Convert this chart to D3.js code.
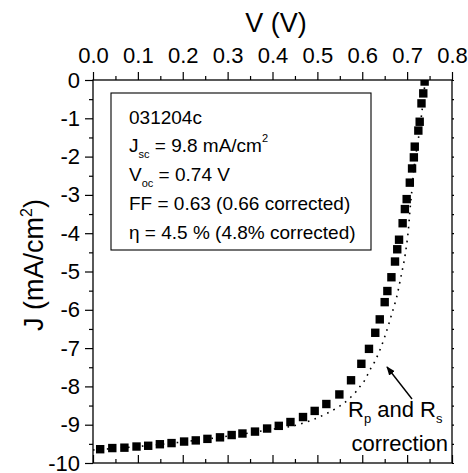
<!DOCTYPE html>
<html>
<head>
<meta charset="utf-8">
<script src="https://cdn.jsdelivr.net/npm/d3@7/dist/d3.min.js"></script>
<style>
  html, body { margin: 0; padding: 0; background: #fff; }
  svg { display: block; font-family: "Liberation Sans", Arial, sans-serif; }
</style>
</head>
<body>
<svg id="chart" width="468" height="473"></svg>
<script>
// Measured J-V curve of cell 031204c (squares)
const voltage = [0.016, 0.043, 0.070, 0.097, 0.123, 0.149, 0.175, 0.203, 0.229, 0.255,
  0.283, 0.309, 0.333, 0.361, 0.388, 0.414, 0.440, 0.468, 0.494, 0.520,
  0.549, 0.575, 0.598, 0.615, 0.629, 0.639, 0.650, 0.656, 0.665, 0.673,
  0.678, 0.682, 0.690, 0.695, 0.699, 0.706, 0.711, 0.715, 0.717, 0.725,
  0.728, 0.732, 0.736, 0.739];
const currentDensity = [-9.64, -9.61, -9.60, -9.57, -9.55, -9.51, -9.48, -9.44, -9.41, -9.37,
  -9.33, -9.27, -9.23, -9.18, -9.10, -9.03, -8.93, -8.80, -8.64, -8.46,
  -8.21, -7.84, -7.41, -7.02, -6.60, -6.25, -5.80, -5.51, -5.15, -4.74,
  -4.42, -4.17, -3.74, -3.37, -3.11, -2.68, -2.31, -2.02, -1.74, -1.32,
  -1.09, -0.61, -0.35, -0.04];

// Curve after parallel / series resistance correction (dotted)
const correctedVoltage = [0.000, 0.100, 0.200, 0.300, 0.400, 0.450, 0.500, 0.535, 0.561, 0.583,
  0.595, 0.606, 0.617, 0.628, 0.643, 0.655, 0.665, 0.676, 0.686, 0.695,
  0.702, 0.707, 0.710, 0.716, 0.720, 0.726, 0.733, 0.739, 0.741];
const correctedCurrent = [-9.66, -9.57, -9.45, -9.30, -9.12, -9.02, -8.82, -8.62, -8.42, -8.18,
  -8.00, -7.83, -7.57, -7.35, -6.94, -6.53, -6.14, -5.70, -5.15, -4.61,
  -4.00, -3.31, -2.96, -2.22, -1.91, -1.46, -0.83, -0.17, 0.00];

const xMajorTicks = [0, 0.1, 0.2, 0.3, 0.4, 0.5, 0.6, 0.7, 0.8];
const xMinorTicks = [0.05, 0.15, 0.25, 0.35, 0.45, 0.55, 0.65, 0.75];
const yMajorTicks = [0, -1, -2, -3, -4, -5, -6, -7, -8, -9, -10];
const yMinorTicks = [-0.5, -1.5, -2.5, -3.5, -4.5, -5.5, -6.5, -7.5, -8.5, -9.5];

const svg = d3.select("#chart");
const plotLeft = 93, plotRight = 452, plotTop = 80, plotBottom = 463;

const x = d3.scaleLinear().domain([0, 0.8]).range([plotLeft, plotRight]);
const y = d3.scaleLinear().domain([0, -10]).range([plotTop, plotBottom]);

const fmtX = d3.format(".1f");
// plain hyphen for negative labels
const fmtY = d => String(d);

function styleAxis(g, fontSize) {
  g.select(".domain").remove();
  g.selectAll(".tick line").attr("stroke", "#000").attr("stroke-width", 1.2);
  g.selectAll(".tick text")
    .attr("fill", "#000")
    .style("font-size", fontSize + "px")
    .style("font-family", "'Liberation Sans', Arial, sans-serif");
}

// Top axis: labelled, ticks outward
svg.append("g").attr("transform", `translate(0,${plotTop})`)
  .call(d3.axisTop(x).tickValues(xMajorTicks).tickSize(8).tickPadding(9).tickFormat(fmtX))
  .call(g => styleAxis(g, 22));
svg.append("g").attr("transform", `translate(0,${plotTop})`)
  .call(d3.axisTop(x).tickValues(xMinorTicks).tickSize(4).tickFormat(""))
  .call(g => styleAxis(g, 22));

// Bottom axis: ticks inward, no labels
svg.append("g").attr("transform", `translate(0,${plotBottom})`)
  .call(d3.axisBottom(x).tickValues(xMajorTicks).tickSize(-8).tickFormat(""))
  .call(g => styleAxis(g, 22));
svg.append("g").attr("transform", `translate(0,${plotBottom})`)
  .call(d3.axisBottom(x).tickValues(xMinorTicks).tickSize(-4).tickFormat(""))
  .call(g => styleAxis(g, 22));

// Left axis: labelled, ticks outward
svg.append("g").attr("transform", `translate(${plotLeft},0)`)
  .call(d3.axisLeft(y).tickValues(yMajorTicks).tickSize(8).tickPadding(5).tickFormat(fmtY))
  .call(g => styleAxis(g, 22));
svg.append("g").attr("transform", `translate(${plotLeft},0)`)
  .call(d3.axisLeft(y).tickValues(yMinorTicks).tickSize(4).tickFormat(""))
  .call(g => styleAxis(g, 22));

// Right axis: short outward ticks
svg.append("g").attr("transform", `translate(${plotRight},0)`)
  .call(d3.axisRight(y).tickValues(yMajorTicks.concat(yMinorTicks)).tickSize(2).tickFormat(""))
  .call(g => styleAxis(g, 22));

// Plot frame
svg.append("rect")
  .attr("x", plotLeft).attr("y", plotTop)
  .attr("width", plotRight - plotLeft).attr("height", plotBottom - plotTop)
  .attr("fill", "none").attr("stroke", "#000").attr("stroke-width", 1.3);

// Clip marks to the plot area
svg.append("clipPath").attr("id", "plotClip")
  .append("rect").attr("x", plotLeft).attr("y", plotTop)
  .attr("width", plotRight - plotLeft).attr("height", plotBottom - plotTop);

const plot = svg.append("g").attr("clip-path", "url(#plotClip)");

// Corrected curve
const corrected = correctedVoltage.map((v, i) => [v, correctedCurrent[i]]);
plot.append("path")
  .datum(corrected)
  .attr("d", d3.line().x(d => x(d[0])).y(d => y(d[1])).curve(d3.curveCatmullRom))
  .attr("fill", "none")
  .attr("stroke", "#000")
  .attr("stroke-width", 1.6)
  .attr("stroke-dasharray", "1.6 5.4");

// Measured points
const measured = voltage.map((v, i) => [v, currentDensity[i]]);
const sq = 8.4;
plot.selectAll("rect.pt")
  .data(measured)
  .join("rect")
  .attr("class", "pt")
  .attr("x", d => x(d[0]) - sq / 2)
  .attr("y", d => y(d[1]) - sq / 2)
  .attr("width", sq).attr("height", sq)
  .attr("fill", "#000");

// Axis titles
svg.append("text")
  .attr("x", 276).attr("y", 32)
  .attr("text-anchor", "middle")
  .style("font-size", "27px")
  .text("V (V)");

const yTitle = svg.append("text")
  .attr("transform", "translate(43,265) rotate(-90)")
  .attr("text-anchor", "middle")
  .style("font-size", "27px");
yTitle.append("tspan").text("J (mA/cm");
yTitle.append("tspan").attr("dy", -11).style("font-size", "16px").text("2");
yTitle.append("tspan").attr("dy", 11).text(")");

// Parameter box
svg.append("rect")
  .attr("x", 111).attr("y", 93).attr("width", 260).attr("height", 157)
  .attr("fill", "#fff").attr("stroke", "#000").attr("stroke-width", 1.1);

const bx = 129, fs = 19, sub = 11;
const info = svg.append("g").style("font-size", fs + "px");
info.append("text").attr("x", bx).attr("y", 124).text("031204c");

const jsc = info.append("text").attr("x", bx).attr("y", 152);
jsc.append("tspan").text("J");
jsc.append("tspan").attr("dy", 6).style("font-size", sub + "px").text("sc");
jsc.append("tspan").attr("dy", -6).text(" = 9.8 mA/cm");
jsc.append("tspan").attr("dy", -10).style("font-size", sub + "px").text("2");

const voc = info.append("text").attr("x", bx).attr("y", 181);
voc.append("tspan").text("V");
voc.append("tspan").attr("dy", 6).style("font-size", sub + "px").text("oc");
voc.append("tspan").attr("dy", -6).text(" = 0.74 V");

info.append("text").attr("x", bx).attr("y", 210).text("FF = 0.63 (0.66 corrected)");
info.append("text").attr("x", bx).attr("y", 239).text("\u03b7 = 4.5 % (4.8% corrected)");

// Annotation for the corrected curve
svg.append("defs").append("marker")
  .attr("id", "arrowHead")
  .attr("viewBox", "0 0 10 10")
  .attr("refX", 9).attr("refY", 5)
  .attr("markerWidth", 9).attr("markerHeight", 9)
  .attr("markerUnits", "userSpaceOnUse")
  .attr("orient", "auto")
  .append("path").attr("d", "M0,1 L10,5 L0,9 Z").attr("fill", "#000");

svg.append("line")
  .attr("x1", 412).attr("y1", 399)
  .attr("x2", 387).attr("y2", 367)
  .attr("stroke", "#000").attr("stroke-width", 1.4)
  .attr("marker-end", "url(#arrowHead)");

const note = svg.append("text").attr("x", 348).attr("y", 417).style("font-size", "22px");
note.append("tspan").text("R");
note.append("tspan").attr("dy", 6).style("font-size", "13px").text("p");
note.append("tspan").attr("dy", -6).text(" and R");
note.append("tspan").attr("dy", 6).style("font-size", "13px").text("s");

svg.append("text")
  .attr("x", 448).attr("y", 451)
  .attr("text-anchor", "end")
  .style("font-size", "22px")
  .text("correction");
</script>
</body>
</html>
